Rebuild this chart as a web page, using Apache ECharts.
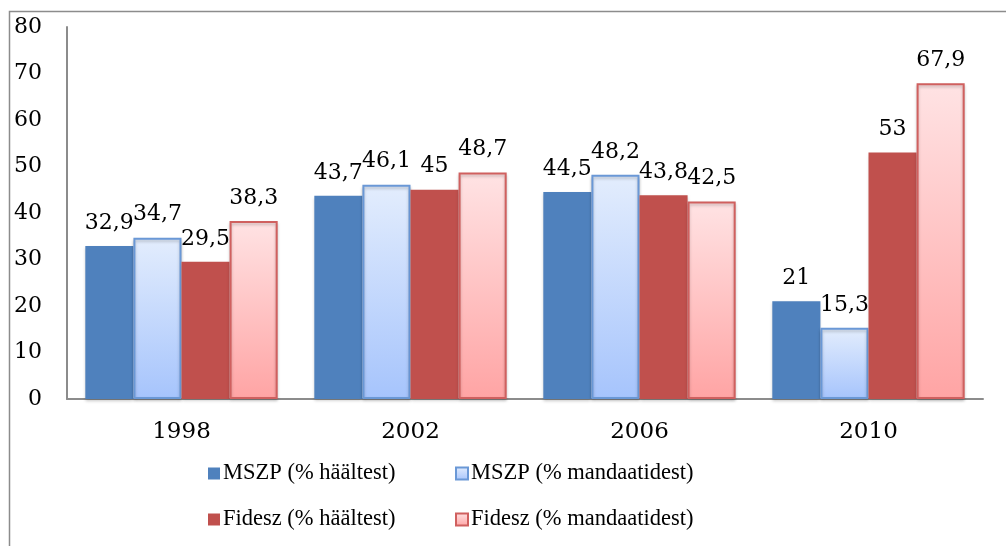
<!DOCTYPE html>
<html><head><meta charset="utf-8">
<script src="https://cdn.jsdelivr.net/npm/echarts@6/dist/echarts.min.js"></script>
<style>html,body{margin:0;padding:0;background:#fff}#c{width:1006px;height:546px}</style>
</head><body><div id="c"></div>
<script>
var categories = ['1998', '2002', '2006', '2010'];
var seriesNames = ['MSZP (% häältest)', 'MSZP (% mandaatidest)', 'Fidesz (% häältest)', 'Fidesz (% mandaatidest)'];
var mszpVotes = [32.9, 43.7, 44.5, 21];
var mszpSeats = [34.7, 46.1, 48.2, 15.3];
var fideszVotes = [29.5, 45, 43.8, 53];
var fideszSeats = [38.3, 48.7, 42.5, 67.9];
var yTicks = { min: 0, max: 80, interval: 10 };

var serif = 'DejaVu Serif';
function grad(top, bottom) {
  return new echarts.graphic.LinearGradient(0, 0, 0, 1, [{offset: 0, color: top}, {offset: 1, color: bottom}]);
}
var labelCfg = {
  show: true, position: 'top', distance: 12,
  fontFamily: serif, fontSize: 22, color: '#000',
  formatter: function (p) { return String(p.value).replace('.', ','); }
};
var styles = [
  {color: '#4F81BD'},
  {color: grad('#E3EDFD', '#A6C4FC'), borderColor: '#6A98D6', borderWidth: 2},
  {color: '#C0504D'},
  {color: grad('#FFE3E4', '#FFA4A4'), borderColor: '#D0605F', borderWidth: 2}
];
var dataSets = [mszpVotes, mszpSeats, fideszVotes, fideszSeats];
var series = dataSets.map(function (d, i) {
  return {
    name: seriesNames[i], type: 'bar', data: d,
    barGap: '0%', barCategoryGap: '16%',
    itemStyle: Object.assign({shadowColor: 'rgba(0,0,0,0.22)', shadowBlur: 3, shadowOffsetY: 2}, styles[i]),
    label: labelCfg
  };
});
var legendText = {fontFamily: 'Liberation Serif', fontSize: 22.5, color: '#000', padding: [0, 0, 0, -2]};

var chart = echarts.init(document.getElementById('c'));
chart.setOption({
  animation: false,
  backgroundColor: '#fff',
  grid: {left: 67, right: 23, top: 27, bottom: 147},
  graphic: [{
    type: 'rect', shape: {x: 9.5, y: 11.5, width: 1200, height: 700},
    style: {fill: 'none', stroke: '#8c8c8c', lineWidth: 1.5}, silent: true, z: -1
  }],
  legend: [
    {data: [seriesNames[0], seriesNames[2]], orient: 'vertical', left: 203, top: 457,
     itemWidth: 12, itemHeight: 12, itemGap: 23, icon: 'rect', textStyle: legendText},
    {data: [seriesNames[1], seriesNames[3]], orient: 'vertical', left: 450, top: 457,
     itemWidth: 12, itemHeight: 12, itemGap: 23, icon: 'rect', textStyle: legendText}
  ],
  xAxis: {
    type: 'category', data: categories,
    axisLine: {lineStyle: {color: '#8c8c8c', width: 2}},
    axisTick: {show: false},
    axisLabel: {fontFamily: serif, fontSize: 23, color: '#000', margin: 22}
  },
  yAxis: {
    type: 'value', min: yTicks.min, max: yTicks.max, interval: yTicks.interval,
    axisLine: {show: true, lineStyle: {color: '#8c8c8c', width: 2}},
    axisTick: {show: false},
    splitLine: {show: false},
    axisLabel: {fontFamily: serif, fontSize: 22, color: '#000', margin: 25}
  },
  series: series
});
</script></body></html>
